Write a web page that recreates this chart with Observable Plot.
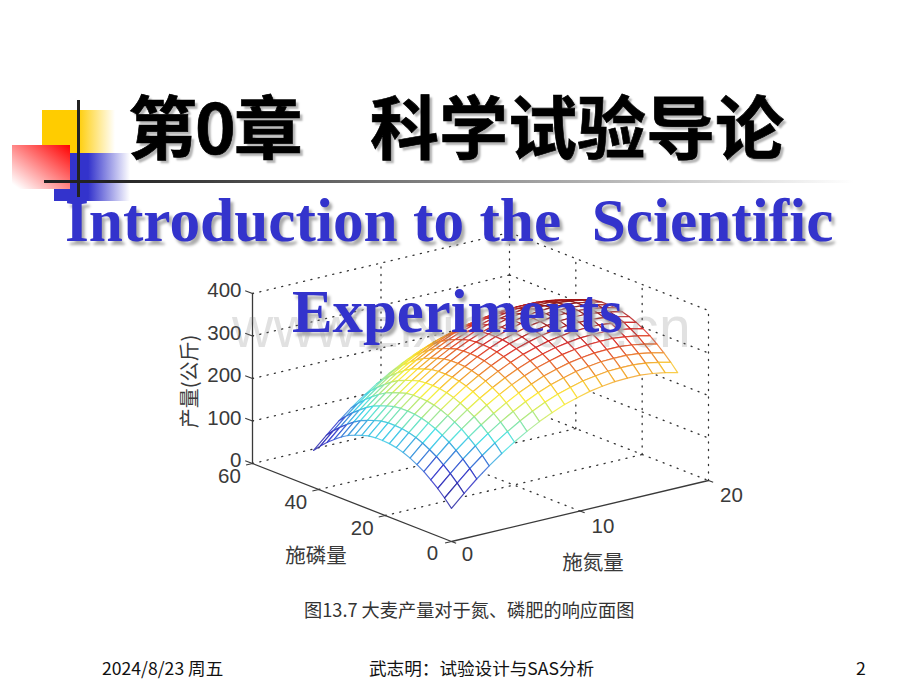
<!DOCTYPE html>
<html lang="zh">
<head>
<meta charset="utf-8">
<script src="https://cdn.jsdelivr.net/npm/d3@7"></script>
<script src="https://cdn.jsdelivr.net/npm/@observablehq/plot@0.6"></script>
<style>
html,body{margin:0;padding:0;background:#fff;}
#slide{position:relative;width:920px;height:690px;overflow:hidden;background:#fff;}
#slide>*{position:absolute;}
#chart svg{display:block;}
.cjk{font-family:"Noto Sans CJK SC",sans-serif;}
.title{font-size:69px;line-height:68px;font-weight:700;color:#000;white-space:pre;-webkit-text-stroke:.7px #000;text-shadow:3px 3px 2px #b5b5b5;}
.en{font-family:"Liberation Serif",serif;font-weight:700;line-height:70px;color:#3333cc;white-space:pre;text-shadow:3px 4px 3px #aaa;}
.foot{font-size:17.6px;line-height:20px;color:#111;white-space:pre;}
</style>
</head>
<body>
<div id="slide">
  <div id="chart" style="left:0;top:0"></div>
  <div style="left:42px;top:110px;width:73px;height:43px;background:linear-gradient(90deg,#ffcc00 0%,#ffcc00 48%,#fff 100%)"></div>
  <div style="left:54px;top:153px;width:76px;height:48px;background:linear-gradient(90deg,#3333cc 0%,#3333cc 45%,#fff 100%)"></div>
  <div style="left:12px;top:145px;width:58px;height:44px;background:linear-gradient(to top right,#fff 6%,#ff0000 100%)"></div>
  <div style="left:76.5px;top:100px;width:3px;height:97px;background:#222"></div>
  <div style="left:44px;top:179.5px;width:810px;height:3px;background:linear-gradient(90deg,#222 0%,#222 8%,#fff 100%)"></div>
  <div id="mark" style="left:232px;top:292px;font-family:'Liberation Sans',sans-serif;font-size:57px;line-height:70px;color:rgba(120,120,120,.22);white-space:pre;letter-spacing:.6px">www.zixin.com.cn</div>
  <div class="title cjk" style="left:128px;top:90px;letter-spacing:-2px">第0章</div>
  <div class="title cjk" style="left:370px;top:90px">科学试验导论</div>
  <div class="en" style="left:65px;top:185px;font-size:61.3px">Introduction to the  Scientific</div>
  <div class="en" style="left:292px;top:277px;font-size:60.8px">Experiments</div>
  <div class="cjk" id="caption" style="left:304px;top:598px;font-size:18.2px;line-height:22px;color:#333;white-space:pre">图13.7 大麦产量对于氮、磷肥的响应面图</div>
  <div class="foot cjk" style="left:102px;top:658px">2024/8/23 周五</div>
  <div class="foot cjk" style="left:369px;top:658px">武志明：试验设计与SAS分析</div>
  <div class="foot cjk" style="left:856px;top:658px">2</div>
</div>
<script>
const nitrogenTicks = [0, 10, 20];
const phosphorusTicks = [0, 20, 40, 60];
const yieldTicks = [0, 100, 200, 300, 400];

const nitrogenLevels = [0,0.98,1.96,2.93,3.91,4.89,5.87,6.84,7.82,8.8,9.78,10.76,11.73,12.71,13.69,14.67,15.64,16.62,17.6];
const phosphorusLevels = [0,2.08,4.16,6.24,8.32,10.4,12.48,14.56,16.64,18.72,20.8,22.88,24.96,27.04,29.12,31.2,33.28,35.36,37.44,39.52,41.6];

// yield: one row per phosphorus level, one column per nitrogen level
const yieldGrid = [
[78,106,133,157,179,199,217,233,247,259,268,276,281,285,286,286,283,278,271],
[96,124,151,175,197,217,235,251,265,277,286,294,299,303,304,304,301,296,289],
[112,140,167,191,213,233,251,267,281,293,302,310,315,319,320,320,317,312,305],
[126,154,181,205,227,247,265,281,295,307,316,324,329,333,334,334,331,326,319],
[139,167,194,218,240,260,278,294,308,320,329,337,342,346,347,347,344,339,332],
[149,177,204,228,250,270,288,304,318,330,339,347,352,356,357,357,354,349,342],
[158,186,213,237,259,279,297,313,327,339,348,356,361,365,366,366,363,358,351],
[165,193,220,244,266,286,304,320,334,346,355,363,368,372,373,373,370,365,358],
[170,198,225,249,271,291,309,325,339,351,360,368,373,377,378,378,375,370,363],
[173,201,228,252,274,294,312,328,342,354,363,371,376,380,381,381,378,373,366],
[174,202,229,253,275,295,313,329,343,355,364,372,377,381,382,382,379,374,367],
[174,202,229,253,275,295,313,329,343,355,364,372,377,381,382,382,379,374,367],
[172,200,227,251,273,293,311,327,341,353,362,370,375,379,380,380,377,372,365],
[167,195,222,246,268,288,306,322,336,348,357,365,370,374,375,375,372,367,360],
[161,189,216,240,262,282,300,316,330,342,351,359,364,368,369,369,366,361,354],
[154,182,209,233,255,275,293,309,323,335,344,352,357,361,362,362,359,354,347],
[144,172,199,223,245,265,283,299,313,325,334,342,347,351,352,352,349,344,337],
[132,160,187,211,233,253,271,287,301,313,322,330,335,339,340,340,337,332,325],
[119,147,174,198,220,240,258,274,288,300,309,317,322,326,327,327,324,319,312],
[104,132,159,183,205,225,243,259,273,285,294,302,307,311,312,312,309,304,297],
[87,115,142,166,188,208,226,242,256,268,277,285,290,294,295,295,292,287,280]
];

// oblique view of the 3-D box
const px = (n, p) => n / 20 * 257 - p / 60 * 199;
const py = (n, p, z) => n / 20 * 61 + p / 60 * 78 + z / 400 * 170;

const ink = "#3a3a3a";
const sans = "'Liberation Sans',Arial,sans-serif";
const cjk = "'Noto Sans CJK SC',sans-serif";

// hidden-line mesh: cells listed far to near so each white face hides what is behind it
const vertices = [];
let cell = 0;
for (let j = phosphorusLevels.length - 2; j >= 0; j--) {
  for (let i = nitrogenLevels.length - 2; i >= 0; i--) {
    const corners = [[i, j], [i + 1, j], [i + 1, j + 1], [i, j + 1], [i, j]];
    const level = d3.mean(corners.slice(0, 4), ([a, b]) => yieldGrid[b][a]);
    for (const [a, b] of corners) {
      vertices.push({
        cell, level,
        x: px(nitrogenLevels[a], phosphorusLevels[b]),
        y: py(nitrogenLevels[a], phosphorusLevels[b], yieldGrid[b][a])
      });
    }
    cell++;
  }
}

const seg = (a, b) => ({x1: px(a[0], a[1]), y1: py(...a), x2: px(b[0], b[1]), y2: py(...b)});

const dotted = [];
for (const z of yieldTicks) {
  dotted.push(seg([0, 60, z], [20, 60, z]));
  dotted.push(seg([20, 60, z], [20, 0, z]));
}
for (const p of phosphorusTicks.filter(p => p > 0 && p < 60)) {
  dotted.push(seg([0, p, 0], [20, p, 0]));
  dotted.push(seg([20, p, 0], [20, p, 400]));
}
dotted.push(seg([10, 0, 0], [10, 60, 0]));
dotted.push(seg([10, 60, 0], [10, 60, 400]));
dotted.push(seg([20, 60, 0], [20, 60, 400]));
dotted.push(seg([20, 0, 0], [20, 0, 400]));

const axes = [
  seg([0, 60, 0], [0, 60, 400]),
  seg([0, 60, 0], [0, 0, 0]),
  seg([0, 0, 0], [20, 0, 0])
];
const ticks = [
  ...yieldTicks.map(z => seg([0, 60, z], [0, 62.2, z])),
  ...phosphorusTicks.map(p => seg([0, p, 0], [-0.5, p, 0])),
  ...nitrogenTicks.map(n => seg([n, 0, 0], [n, -1.4, 0]))
];

const chart = Plot.plot({
  width: 920, height: 690,
  marginTop: 0, marginRight: 0, marginBottom: 0, marginLeft: 0,
  x: {domain: [-451, 469], range: [0, 920], axis: null},
  y: {domain: [-149, 541], range: [690, 0], axis: null},
  color: {
    type: "linear",
    domain: [78, 135, 195, 267, 343, 382],
    range: ["#101080", "#2424c8", "#30dce8", "#ffee20", "#d81818", "#800000"]
  },
  style: {background: "transparent"},
  marks: [
    Plot.link(dotted, {x1: "x1", y1: "y1", x2: "x2", y2: "y2", stroke: "#333", strokeWidth: 1.3, strokeDasharray: "1.1,6.4", strokeLinecap: "round"}),
    Plot.line(vertices, {x: "x", y: "y", z: "cell", stroke: "level", fill: "white", strokeWidth: 1.2, strokeOpacity: 0.8}),
    Plot.link(axes, {x1: "x1", y1: "y1", x2: "x2", y2: "y2", stroke: ink, strokeWidth: 1.3}),
    Plot.link(ticks, {x1: "x1", y1: "y1", x2: "x2", y2: "y2", stroke: ink, strokeWidth: 1.1}),
    Plot.text(yieldTicks, {x: () => px(0, 60), y: z => py(0, 60, z), text: String, dx: -11, dy: -3, textAnchor: "end", fontSize: 20.5, fontFamily: sans, fill: ink}),
    Plot.text(phosphorusTicks.filter(p => p > 0), {x: p => px(0, p), y: p => py(0, p, 0), text: String, dx: -23, dy: 13, fontSize: 20.5, fontFamily: sans, fill: ink}),
    Plot.text(phosphorusTicks.filter(p => p === 0), {x: p => px(0, p), y: p => py(0, p, 0), text: String, dx: -19, dy: 12, fontSize: 20.5, fontFamily: sans, fill: ink}),
    Plot.text(nitrogenTicks.filter(n => n > 0), {x: n => px(n, 0), y: n => py(n, 0, 0), text: String, dx: 23, dy: 15, fontSize: 20.5, fontFamily: sans, fill: ink}),
    Plot.text(nitrogenTicks.filter(n => n === 0), {x: n => px(n, 0), y: n => py(n, 0, 0), text: String, dx: 16, dy: 13, fontSize: 20.5, fontFamily: sans, fill: ink}),
    Plot.text(["产量(公斤)"], {x: () => px(0, 60), y: () => py(0, 60, 200), text: d => d, dx: -62, dy: 3, rotate: -90, fontSize: 20, fontFamily: cjk, fill: ink}),
    Plot.text(["施磷量"], {x: () => px(0, 30), y: () => py(0, 30, 0), text: d => d, dx: -36, dy: 54, fontSize: 20.5, fontFamily: cjk, fill: ink}),
    Plot.text(["施氮量"], {x: () => px(10, 0), y: () => py(10, 0, 0), text: d => d, dx: 13, dy: 52, fontSize: 20.5, fontFamily: cjk, fill: ink})
  ]
});
document.getElementById("chart").append(chart);
</script>
</body>
</html>
